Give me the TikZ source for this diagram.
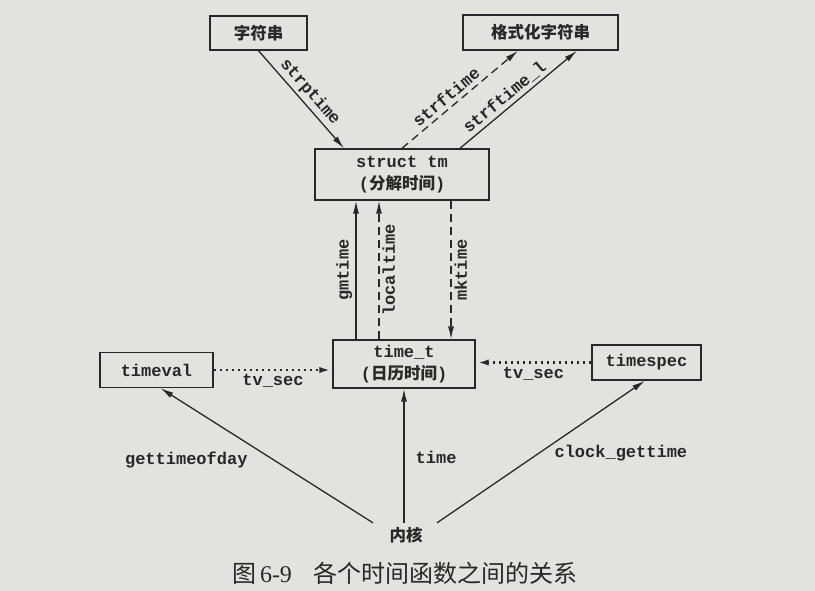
\documentclass[tikz,border=0pt]{standalone}
\usepackage{fontspec}
\usetikzlibrary{arrows.meta,calc}
\newfontfamily\codefont{Liberation Mono}
\newfontfamily\cjkfont{Noto Sans CJK SC}
\newfontfamily\numfont{Liberation Serif}
\definecolor{paper}{RGB}{226,226,222}
\definecolor{ink}{RGB}{40,40,40}
\begin{document}
\begin{tikzpicture}[x=1pt,y=-1pt,
  box/.style={draw=ink, line width=1.4pt, fill=paper, inner sep=0pt, align=center,
    font=\codefont\bfseries\fontsize{17}{22}\selectfont, text=ink},
  cjkb/.style={font=\cjkfont\bfseries\fontsize{16.5}{22}\selectfont},
  conn/.style={draw=ink, line width=1.3pt, -{Latex[length=13pt,width=6pt]}},
  dsh/.style={dash pattern=on 8pt off 5pt},
  dts/.style={line width=2.6pt, dash pattern=on 2.6pt off 3.4pt},
  lbl/.style={font=\codefont\bfseries\fontsize{17}{20}\selectfont, text=ink, inner sep=3pt}
]
\fill[paper] (0,0) rectangle (815,591);
\useasboundingbox (0,0) rectangle (815,591);

% boxes
\node[box, cjkb, minimum width=97pt, minimum height=34pt] (str) at (258.5,33) {字符串};
\node[box, cjkb, minimum width=155pt, minimum height=35pt] (fmt) at (540.5,32.5) {格式化字符串};
\node[box, minimum width=174pt, minimum height=51pt] (tm) at (402,174.5)
  {struct tm\\({\cjkfont\bfseries\fontsize{16.5}{22}\selectfont 分解时间})};
\node[box, minimum width=142pt, minimum height=48pt] (tt) at (404,364)
  {time\_t\\({\cjkfont\bfseries\fontsize{16.5}{22}\selectfont 日历时间})};
\node[box, minimum width=113pt, minimum height=35pt] (tv) at (156.5,370) {timeval};
\node[box, minimum width=109pt, minimum height=35pt] (ts) at (646.5,362.5) {timespec};
\node[cjkb, text=ink, inner sep=4pt] (kern) at (406,535) {内核};
\node[font=\cjkfont\fontsize{24}{28}\selectfont, text=ink] (cap) at (405,573)
  {图\,{\numfont 6-9}\hspace{22pt}各个时间函数之间的关系};

% top connectors
\draw[conn] (str.south) -- node[lbl, sloped, above, pos=0.5] {strptime} ([xshift=-58pt]tm.north);
\draw[conn, dsh] (tm.north) -- node[lbl, sloped, above, pos=0.44, inner sep=4pt] {strftime} ([xshift=-22.5pt]fmt.south);
\draw[conn] ([xshift=58pt]tm.north) -- node[lbl, sloped, above, pos=0.44] {strftime\_l} ([xshift=36.5pt]fmt.south);

% vertical connectors
\coordinate (g0) at ([xshift=-48pt]tt.north);
\coordinate (l0) at ([xshift=-25pt]tt.north);
\coordinate (m0) at ([xshift=49pt]tm.south);
\draw[conn] (g0) -- node[lbl, midway, rotate=90, anchor=south] {gmtime} (g0 |- tm.south);
\draw[conn, dsh] (l0) -- node[lbl, midway, rotate=90, anchor=north] {localtime} (l0 |- tm.south);
\draw[conn, dsh] (m0) -- node[lbl, midway, rotate=90, anchor=north] {mktime} (m0 |- tt.north);

% tv_sec
\draw[conn, dts] (tv.east) -- node[lbl, below, pos=0.5] {tv\_sec} (tv.east -| tt.west);
\draw[conn, dts] (ts.west) -- node[lbl, below, pos=0.5] {tv\_sec} (ts.west -| tt.east);

% kernel
\draw[conn] ([xshift=-33pt]kern.north) -- node[lbl, pos=0.47, anchor=east, xshift=-22pt] {gettimeofday} ([xshift=4pt]tv.south);
\draw[conn] (tt.south |- kern.north) -- node[lbl, pos=0.49, anchor=west, xshift=8pt] {time} (tt.south);
\draw[conn] ([xshift=31pt]kern.north) -- node[lbl, pos=0.49, anchor=west, xshift=12pt] {clock\_gettime} ([xshift=-1.5pt]ts.south);
\end{tikzpicture}
\end{document}
